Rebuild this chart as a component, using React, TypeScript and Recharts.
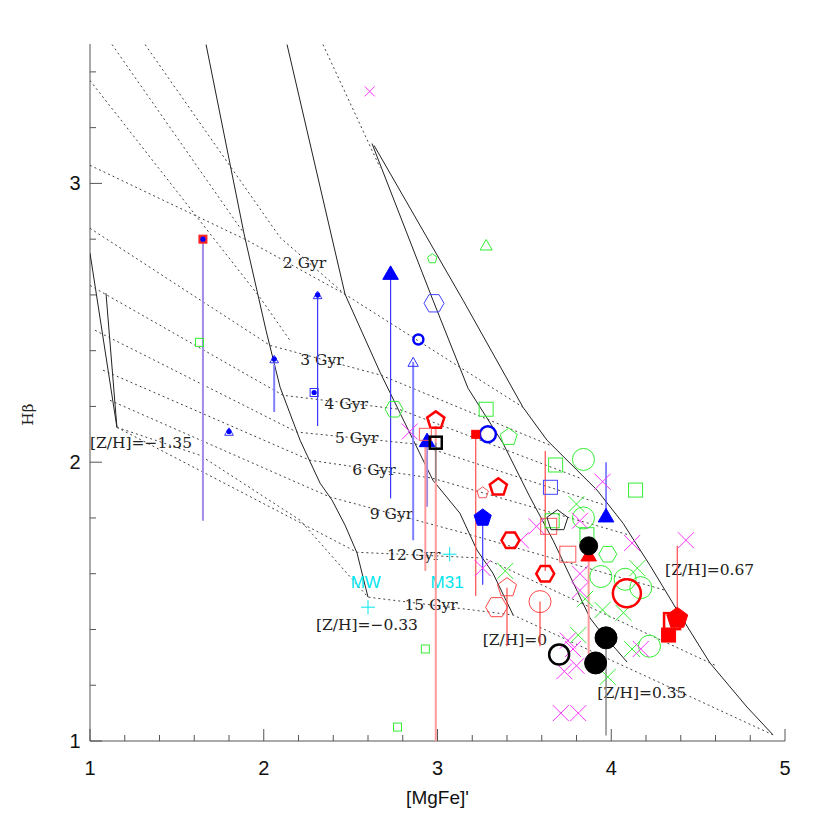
import React from "react";
import { ComposedChart, Scatter, XAxis, YAxis, Label } from "recharts";

type P = { x: number; y: number };
type T = { x: number; y: number; text: string };
type Bar = { x: number; hi: number; lo: number };

// ---- model grid: iso-metallicity (solid) ----
const zMinus135: P[] = [
  { x: 1.0, y: 2.75 }, { x: 1.155, y: 2.125 }, { x: 1.092, y: 2.606 },
];
const zMinus033: P[] = [
  { x: 1.668, y: 3.498 }, { x: 1.886, y: 2.821 }, { x: 2.013, y: 2.473 }, { x: 2.094, y: 2.269 },
  { x: 2.209, y: 2.079 }, { x: 2.324, y: 1.925 }, { x: 2.393, y: 1.864 }, { x: 2.468, y: 1.774 },
  { x: 2.537, y: 1.674 }, { x: 2.6, y: 1.516 },
];
const zSolar: P[] = [
  { x: 2.134, y: 3.498 }, { x: 2.468, y: 2.602 }, { x: 2.669, y: 2.323 }, { x: 2.974, y: 1.935 },
  { x: 3.129, y: 1.817 }, { x: 3.227, y: 1.685 }, { x: 3.319, y: 1.602 }, { x: 3.435, y: 1.452 },
];
const zPlus035: P[] = [
  { x: 2.623, y: 3.143 }, { x: 2.974, y: 2.581 }, { x: 3.176, y: 2.265 }, { x: 3.377, y: 2.068 },
  { x: 3.532, y: 1.875 }, { x: 3.665, y: 1.72 }, { x: 3.774, y: 1.577 }, { x: 3.878, y: 1.441 },
  { x: 3.953, y: 1.38 }, { x: 4.022, y: 1.333 }, { x: 4.091, y: 1.283 },
];
const zPlus067: P[] = [
  { x: 2.635, y: 3.136 }, { x: 3.147, y: 2.581 }, { x: 3.492, y: 2.197 }, { x: 3.63, y: 2.079 },
  { x: 3.918, y: 1.9 }, { x: 4.068, y: 1.781 }, { x: 4.223, y: 1.63 }, { x: 4.292, y: 1.559 },
  { x: 4.378, y: 1.47 }, { x: 4.568, y: 1.28 }, { x: 4.781, y: 1.122 }, { x: 4.931, y: 1.022 },
];

// ---- model grid: iso-age (dotted) ----
const age2: P[] = [{ x: 1.0, y: 3.065 }, { x: 1.904, y: 2.796 }, { x: 2.468, y: 2.602 }, { x: 3.492, y: 2.197 }];
const age3: P[] = [{ x: 1.0, y: 2.839 }, { x: 2.036, y: 2.419 }, { x: 2.675, y: 2.312 }, { x: 3.647, y: 2.061 }];
const age4: P[] = [{ x: 1.0, y: 2.634 }, { x: 2.111, y: 2.24 }, { x: 2.778, y: 2.19 }, { x: 3.82, y: 1.943 }];
const age5: P[] = [{ x: 1.029, y: 2.473 }, { x: 2.191, y: 2.108 }, { x: 2.876, y: 2.065 }, { x: 3.964, y: 1.846 }];
const age6: P[] = [{ x: 1.075, y: 2.33 }, { x: 2.266, y: 2.007 }, { x: 2.968, y: 1.943 }, { x: 4.108, y: 1.738 }];
const age9: P[] = [{ x: 1.115, y: 2.222 }, { x: 2.381, y: 1.875 }, { x: 3.176, y: 1.742 }, { x: 4.309, y: 1.541 }];
const age12: P[] = [{ x: 1.155, y: 2.125 }, { x: 2.537, y: 1.677 }, { x: 3.268, y: 1.656 }, { x: 4.597, y: 1.272 }];
const age15: P[] = [
  { x: 1.155, y: 2.125 }, { x: 1.633, y: 2.025 }, { x: 2.209, y: 1.792 }, { x: 2.6, y: 1.516 },
  { x: 3.435, y: 1.452 }, { x: 4.931, y: 1.022 },
];
const youngA: P[] = [{ x: 1.127, y: 3.498 }, { x: 1.886, y: 2.821 }];
const youngB: P[] = [{ x: 1.317, y: 3.498 }, { x: 2.094, y: 2.806 }, { x: 2.468, y: 2.602 }];
const youngC: P[] = [{ x: 1.0, y: 3.369 }, { x: 1.978, y: 2.591 }, { x: 2.151, y: 2.437 }];
const youngD: P[] = [{ x: 2.341, y: 3.498 }, { x: 2.669, y: 3.057 }];

// ---- labels ----
const ageLabels: T[] = [
  { x: 2.11, y: 2.713, text: "2 Gyr" }, { x: 2.21, y: 2.366, text: "3 Gyr" },
  { x: 2.35, y: 2.21, text: "4 Gyr" }, { x: 2.41, y: 2.086, text: "5 Gyr" },
  { x: 2.51, y: 1.971, text: "6 Gyr" }, { x: 2.61, y: 1.814, text: "9 Gyr" },
  { x: 2.71, y: 1.667, text: "12 Gyr" }, { x: 2.81, y: 1.487, text: "15 Gyr" },
];
const metalLabels: T[] = [
  { x: 1.0, y: 2.07, text: "[Z/H]=\u22121.35" }, { x: 2.3, y: 1.416, text: "[Z/H]=\u22120.33" },
  { x: 3.26, y: 1.362, text: "[Z/H]=0" }, { x: 3.92, y: 1.172, text: "[Z/H]=0.35" },
  { x: 4.31, y: 1.613, text: "[Z/H]=0.67" },
];
const galaxyLabels: T[] = [{ x: 2.5, y: 1.57, text: "MW" }, { x: 2.96, y: 1.57, text: "M31" }];

// ---- error bars ----
const purpleBars: Bar[] = [{ x: 1.65, hi: 2.8, lo: 1.79 }, { x: 2.94, hi: 2.08, lo: 1.84 }];
const lightBlueBars: Bar[] = [{ x: 2.06, hi: 2.35, lo: 2.18 }, { x: 2.86, hi: 2.36, lo: 1.72 }];
const blueBars: Bar[] = [
  { x: 2.31, hi: 2.6, lo: 2.13 }, { x: 2.73, hi: 2.68, lo: 1.87 },
  { x: 3.26, hi: 1.8, lo: 1.56 }, { x: 3.97, hi: 2.0, lo: 1.81 },
];
const pinkBars: Bar[] = [
  { x: 2.99, hi: 2.13, lo: 1.0 }, { x: 2.93, hi: 2.08, lo: 1.61 }, { x: 3.87, hi: 1.67, lo: 1.31 },
];
const redBars: Bar[] = [
  { x: 3.22, hi: 2.1, lo: 1.52 }, { x: 3.4, hi: 1.55, lo: 1.34 }, { x: 3.59, hi: 1.5, lo: 1.34 },
  { x: 3.62, hi: 2.04, lo: 1.61 }, { x: 4.38, hi: 1.7, lo: 1.44 },
];
const grayBars: Bar[] = [{ x: 2.99, hi: 2.07, lo: 1.93 }, { x: 3.97, hi: 1.37, lo: 1.02 }];

// ---- galaxies ----
const greenSquaresSmall: P[] = [{ x: 1.63, y: 2.43 }, { x: 2.77, y: 1.05 }, { x: 2.93, y: 1.33 }];
const greenSquares: P[] = [
  { x: 3.28, y: 2.19 }, { x: 3.68, y: 1.99 }, { x: 4.14, y: 1.9 }, { x: 3.66, y: 1.79 }, { x: 3.86, y: 1.74 },
];
const greenPentagons: P[] = [{ x: 3.41, y: 2.09 }];
const greenPentagonsSmall: P[] = [{ x: 2.97, y: 2.73 }];
const greenTriangles: P[] = [{ x: 3.28, y: 2.78 }];
const greenHexagons: P[] = [{ x: 2.75, y: 2.19 }, { x: 3.98, y: 1.67 }];
const greenCircles: P[] = [
  { x: 3.84, y: 2.01 }, { x: 3.84, y: 1.8 }, { x: 3.94, y: 1.59 }, { x: 4.08, y: 1.58 },
  { x: 4.17, y: 1.55 }, { x: 4.22, y: 1.34 },
];
const greenCrosses: P[] = [
  { x: 3.39, y: 1.61 }, { x: 3.8, y: 1.85 }, { x: 3.95, y: 1.47 }, { x: 4.07, y: 1.46 }, { x: 3.85, y: 1.51 },
  { x: 4.15, y: 1.62 }, { x: 4.12, y: 1.33 }, { x: 3.98, y: 1.23 }, { x: 3.81, y: 1.38 },
];
const magentaCrosses: P[] = [
  { x: 2.84, y: 2.11 }, { x: 3.95, y: 1.93 }, { x: 4.12, y: 1.71 }, { x: 4.43, y: 1.72 },
  { x: 3.57, y: 1.77 }, { x: 3.82, y: 1.79 }, { x: 3.48, y: 1.72 }, { x: 3.26, y: 1.62 }, { x: 3.82, y: 1.6 },
  { x: 3.82, y: 1.54 }, { x: 3.75, y: 1.36 }, { x: 3.78, y: 1.33 }, { x: 3.73, y: 1.25 }, { x: 3.8, y: 1.27 },
  { x: 3.71, y: 1.1 }, { x: 3.81, y: 1.1 }, { x: 4.17, y: 1.33 },
];
const magentaCrossSmall: P[] = [{ x: 2.61, y: 3.33 }];
const blueTriDot: P[] = [{ x: 2.06, y: 2.37 }, { x: 2.31, y: 2.6 }, { x: 1.8, y: 2.11 }];
const blueSqDot: P[] = [{ x: 2.29, y: 2.25 }];
const redSqBlueDot: P[] = [{ x: 1.65, y: 2.8 }];
const blueFilledTri: P[] = [{ x: 2.73, y: 2.68 }, { x: 2.94, y: 2.08 }, { x: 3.97, y: 1.81 }];
const blueCircleSmall: P[] = [{ x: 2.89, y: 2.44 }];
const blueCircle: P[] = [{ x: 3.29, y: 2.1 }];
const blueOpenTri: P[] = [{ x: 2.86, y: 2.36 }];
const blueHexagon: P[] = [{ x: 2.98, y: 2.57 }];
const blueFilledPent: P[] = [{ x: 3.26, y: 1.8 }];
const blueSquare: P[] = [{ x: 3.65, y: 1.91 }];
const redPentThick: P[] = [{ x: 2.99, y: 2.15 }, { x: 3.35, y: 1.91 }];
const redSquareLightSmall: P[] = [{ x: 2.93, y: 2.1 }];
const redPentLightSmall: P[] = [{ x: 3.26, y: 1.89 }];
const redHexThick: P[] = [{ x: 3.42, y: 1.72 }, { x: 3.62, y: 1.6 }];
const redPentThin: P[] = [{ x: 3.4, y: 1.55 }];
const redHexThin: P[] = [{ x: 3.34, y: 1.48 }];
const redCircleThin: P[] = [{ x: 3.59, y: 1.5 }];
const redSquareThin: P[] = [{ x: 3.64, y: 1.77 }, { x: 3.75, y: 1.67 }];
const redFilledSquareSmall: P[] = [{ x: 3.22, y: 2.1 }];
const redFilledTri: P[] = [{ x: 3.87, y: 1.67 }];
const redCircleThick: P[] = [{ x: 4.09, y: 1.53 }];
const redFilledPent: P[] = [{ x: 4.38, y: 1.44 }];
const redSquareThick: P[] = [{ x: 4.35, y: 1.43 }];
const redFilledSquare: P[] = [{ x: 4.33, y: 1.38 }];
const blackSquareThick: P[] = [{ x: 2.99, y: 2.07 }];
const blackDotSmall: P[] = [{ x: 3.87, y: 1.7 }];
const blackDots: P[] = [{ x: 3.97, y: 1.37 }, { x: 3.91, y: 1.28 }];
const blackCircleThick: P[] = [{ x: 3.7, y: 1.31 }];
const blackPentagon: P[] = [{ x: 3.69, y: 1.79 }];
const cyanPlus: P[] = [{ x: 2.6, y: 1.48 }, { x: 3.07, y: 1.67 }];

const xTicks = [1, 1.2, 1.4, 1.6, 1.8, 2, 2.2, 2.4, 2.6, 2.8, 3, 3.2, 3.4, 3.6, 3.8, 4, 4.2, 4.4, 4.6, 4.8, 5];
const yTicks = [1, 1.2, 1.4, 1.6, 1.8, 2, 2.2, 2.4, 2.6, 2.8, 3, 3.2, 3.4];

const AX = "#555";
const isMajor = (v: number) => Math.abs(v - Math.round(v)) < 1e-6;

const poly = (cx: number, cy: number, r: number, n: number, start: number) =>
  Array.from({ length: n }, (_, i) => {
    const a = start + (i * 2 * Math.PI) / n;
    return `${cx + r * Math.cos(a)},${cy + r * Math.sin(a)}`;
  }).join(" ");

type Style = { kind: string; r: number; color: string; fill?: boolean; sw?: number; dot?: string; edge?: string };

const marker = (st: Style) => (props: any) => {
  const { cx, cy } = props;
  if (cx == null || cy == null) return <g />;
  const { kind, r, color, fill, sw = 1 } = st;
  const f = fill ? color : "none";
  const s = st.edge ?? color;
  let el: React.ReactNode = null;
  if (kind === "circle") el = <circle cx={cx} cy={cy} r={r} fill={f} stroke={s} strokeWidth={sw} />;
  else if (kind === "square")
    el = <rect x={cx - r} y={cy - r} width={2 * r} height={2 * r} fill={f} stroke={s} strokeWidth={sw} />;
  else if (kind === "tri")
    el = <polygon points={poly(cx, cy + r * 0.25, r, 3, -Math.PI / 2)} fill={f} stroke={s} strokeWidth={sw} />;
  else if (kind === "pent")
    el = <polygon points={poly(cx, cy, r, 5, -Math.PI / 2)} fill={f} stroke={s} strokeWidth={sw} />;
  else if (kind === "hex") el = <polygon points={poly(cx, cy, r, 6, 0)} fill={f} stroke={s} strokeWidth={sw} />;
  else if (kind === "x")
    el = (
      <g stroke={color} strokeWidth={sw}>
        <line x1={cx - r} y1={cy - r} x2={cx + r} y2={cy + r} />
        <line x1={cx - r} y1={cy + r} x2={cx + r} y2={cy - r} />
      </g>
    );
  else if (kind === "plus")
    el = (
      <g stroke={color} strokeWidth={sw}>
        <line x1={cx - r} y1={cy} x2={cx + r} y2={cy} />
        <line x1={cx} y1={cy - r} x2={cx} y2={cy + r} />
      </g>
    );
  return (
    <g>
      {el}
      {st.dot && <circle cx={cx} cy={cy} r={2.6} fill={st.dot} />}
    </g>
  );
};

const none = () => <g />;

const textShape = (font: string, size: number, color: string) => (props: any) => {
  const { cx, cy, payload } = props;
  if (cx == null) return <g />;
  return (
    <text x={cx} y={cy} dominantBaseline="central" fontFamily={font} fontSize={size} fill={color}>
      {payload.text}
    </text>
  );
};

const curve = (key: string, data: P[], dotted: boolean) => (
  <Scatter
    key={key}
    data={data}
    line={{ stroke: dotted ? "#444" : "#222", strokeWidth: 1, strokeDasharray: dotted ? "2 3" : undefined }}
    lineType="joint"
    shape={none}
    isAnimationActive={false}
  />
);

const bars = (key: string, list: Bar[], color: string, w: number) =>
  list.map((b, i) => (
    <Scatter
      key={`${key}${i}`}
      data={[{ x: b.x, y: b.hi }, { x: b.x, y: b.lo }]}
      line={{ stroke: color, strokeWidth: w }}
      lineType="joint"
      shape={none}
      isAnimationActive={false}
    />
  ));

const pts = (key: string, data: P[], st: Style) => (
  <Scatter key={key} data={data} shape={marker(st)} isAnimationActive={false} />
);

const BottomTick = (p: any) => {
  const v = p.payload.value;
  const m = isMajor(v);
  return (
    <g>
      <line x1={p.x} x2={p.x} y1={p.y} y2={p.y - (m ? 12 : 6)} stroke={AX} />
      {m && (
        <text x={p.x} y={p.y + 34} textAnchor="middle" fontFamily="Liberation Sans" fontSize={20} fill="#111">
          {v}
        </text>
      )}
    </g>
  );
};
const TopTick = (p: any) => {
  const m = isMajor(p.payload.value);
  return <line x1={p.x} x2={p.x} y1={p.y} y2={p.y + (m ? 12 : 6)} stroke={AX} />;
};
const LeftTick = (p: any) => {
  const v = p.payload.value;
  const m = isMajor(v);
  return (
    <g>
      <line x1={p.x} x2={p.x + (m ? 12 : 6)} y1={p.y} y2={p.y} stroke={AX} />
      {m && (
        <text x={p.x - 15} y={p.y + 7} textAnchor="middle" fontFamily="Liberation Sans" fontSize={20} fill="#111">
          {v}
        </text>
      )}
    </g>
  );
};
const RightTick = (p: any) => {
  const m = isMajor(p.payload.value);
  return <line x1={p.x} x2={p.x - (m ? 12 : 6)} y1={p.y} y2={p.y} stroke={AX} />;
};

export default function App() {
  return (
    <div style={{ position: "absolute", left: 0, top: 0, width: 830, height: 830, background: "#fff" }}>
      <ComposedChart width={830} height={830} margin={{ top: 44, right: 45, bottom: 49, left: 50 }}>
        <XAxis
          dataKey="x"
          type="number"
          domain={[1, 5]}
          allowDataOverflow
          ticks={xTicks}
          interval={0}
          tickSize={0}
          tickMargin={0}
          tickLine={false}
          tick={BottomTick}
          height={40}
          axisLine={{ stroke: AX }}
        >
          <Label
            content={(p: any) => (
              <text
                x={p.viewBox.x + p.viewBox.width / 2}
                y={p.viewBox.y + 63}
                textAnchor="middle"
                fontFamily="Liberation Sans"
                fontSize={19}
                fill="#111"
              >
                [MgFe]'
              </text>
            )}
          />
        </XAxis>
        <XAxis
          xAxisId="top"
          orientation="top"
          dataKey="x"
          type="number"
          domain={[1, 5]}
          allowDataOverflow
          ticks={xTicks}
          interval={0}
          tickSize={0}
          tickMargin={0}
          tickLine={false}
          tick={TopTick}
          height={0}
          axisLine={{ stroke: AX }}
        />
        <YAxis
          dataKey="y"
          type="number"
          domain={[1, 3.5]}
          allowDataOverflow
          ticks={yTicks}
          interval={0}
          tickSize={0}
          tickMargin={0}
          tickLine={false}
          tick={LeftTick}
          width={40}
          axisLine={{ stroke: AX }}
        >
          <Label
            content={(p: any) => {
              const x = p.viewBox.x - 17;
              const y = p.viewBox.y + p.viewBox.height / 2 + 22;
              return (
                <text
                  x={x}
                  y={y}
                  transform={`rotate(-90 ${x} ${y})`}
                  textAnchor="middle"
                  fontFamily="DejaVu Serif"
                  fontSize={15}
                  fill="#222"
                >
                  H{"\u03b2"}
                </text>
              );
            }}
          />
        </YAxis>
        <YAxis
          yAxisId="right"
          orientation="right"
          dataKey="y"
          type="number"
          domain={[1, 3.5]}
          allowDataOverflow
          ticks={yTicks}
          interval={0}
          tickSize={0}
          tickMargin={0}
          tickLine={false}
          tick={RightTick}
          width={0}
          axisLine={{ stroke: AX }}
        />

        {curve("zm135", zMinus135, false)}
        {curve("zm033", zMinus033, false)}
        {curve("z0", zSolar, false)}
        {curve("z035", zPlus035, false)}
        {curve("z067", zPlus067, false)}
        {curve("a2", age2, true)}
        {curve("a3", age3, true)}
        {curve("a4", age4, true)}
        {curve("a5", age5, true)}
        {curve("a6", age6, true)}
        {curve("a9", age9, true)}
        {curve("a12", age12, true)}
        {curve("a15", age15, true)}
        {curve("ya", youngA, true)}
        {curve("yb", youngB, true)}
        {curve("yc", youngC, true)}
        {curve("yd", youngD, true)}

        <Scatter data={ageLabels} shape={textShape("DejaVu Serif", 15.5, "#222")} isAnimationActive={false} />
        <Scatter data={metalLabels} shape={textShape("DejaVu Serif", 15.5, "#222")} isAnimationActive={false} />
        <Scatter data={galaxyLabels} shape={textShape("Liberation Sans", 17, "#00e5ee")} isAnimationActive={false} />

        {bars("pu", purpleBars, "#a58be8", 2)}
        {bars("lb", lightBlueBars, "#7f7fff", 2)}
        {bars("bl", blueBars, "#3a3aff", 1.2)}
        {bars("pk", pinkBars, "#ff9a9a", 2)}
        {bars("rd", redBars, "#ff4a4a", 1.2)}
        {bars("gr", grayBars, "#8a8a8a", 1.5)}

        {pts("gss", greenSquaresSmall, { kind: "square", r: 4, color: "#33ee33" })}
        {pts("gs", greenSquares, { kind: "square", r: 7, color: "#33ee33" })}
        {pts("gp", greenPentagons, { kind: "pent", r: 9, color: "#33ee33" })}
        {pts("gps", greenPentagonsSmall, { kind: "pent", r: 5, color: "#33ee33" })}
        {pts("gt", greenTriangles, { kind: "tri", r: 7, color: "#33ee33" })}
        {pts("gh", greenHexagons, { kind: "hex", r: 9, color: "#33ee33" })}
        {pts("gc", greenCircles, { kind: "circle", r: 11, color: "#33ee33" })}
        {pts("gx", greenCrosses, { kind: "x", r: 8, color: "#33ee33" })}
        {pts("mx", magentaCrosses, { kind: "x", r: 8, color: "#ff33ff" })}
        {pts("mxs", magentaCrossSmall, { kind: "x", r: 5, color: "#ff33ff" })}
        {pts("cp", cyanPlus, { kind: "plus", r: 7, color: "#00e5ee" })}

        {pts("btd", blueTriDot, { kind: "tri", r: 5, color: "#3333ff", dot: "#0000ff" })}
        {pts("bsd", blueSqDot, { kind: "square", r: 4, color: "#3333ff", dot: "#0000ff" })}
        {pts("rsb", redSqBlueDot, { kind: "square", r: 4, color: "#ff2222", fill: true, dot: "#0000ff" })}
        {pts("bft", blueFilledTri, { kind: "tri", r: 9, color: "#0000ff", fill: true })}
        {pts("bcs", blueCircleSmall, { kind: "circle", r: 5, color: "#0000ff", sw: 2.5 })}
        {pts("bc", blueCircle, { kind: "circle", r: 8, color: "#0000ff", sw: 2.5 })}
        {pts("bot", blueOpenTri, { kind: "tri", r: 6, color: "#3333ff" })}
        {pts("bh", blueHexagon, { kind: "hex", r: 10, color: "#4444ff" })}
        {pts("bfp", blueFilledPent, { kind: "pent", r: 9, color: "#0000ff", fill: true })}
        {pts("bs", blueSquare, { kind: "square", r: 7, color: "#4444ff" })}

        {pts("rpt", redPentThick, { kind: "pent", r: 9, color: "#ff0000", sw: 2.5 })}
        {pts("rsl", redSquareLightSmall, { kind: "square", r: 6, color: "#ff5555" })}
        {pts("rpl", redPentLightSmall, { kind: "pent", r: 6, color: "#ff5555" })}
        {pts("rht", redHexThick, { kind: "hex", r: 9, color: "#ff0000", sw: 2.5 })}
        {pts("rpn", redPentThin, { kind: "pent", r: 10, color: "#ff4444" })}
        {pts("rhn", redHexThin, { kind: "hex", r: 11, color: "#ff4444" })}
        {pts("rcn", redCircleThin, { kind: "circle", r: 11, color: "#ff4444" })}
        {pts("rsn", redSquareThin, { kind: "square", r: 8, color: "#ff5555" })}
        {pts("rfs", redFilledSquareSmall, { kind: "square", r: 4, color: "#ff0000", fill: true })}
        {pts("rft", redFilledTri, { kind: "tri", r: 9, color: "#ff0000", fill: true })}
        {pts("rct", redCircleThick, { kind: "circle", r: 14, color: "#ff0000", sw: 2.5 })}
        {pts("rst", redSquareThick, { kind: "square", r: 8, color: "#ff0000", sw: 2.5 })}
        {pts("rfp", redFilledPent, { kind: "pent", r: 11, color: "#ff0000", fill: true })}
        {pts("rfq", redFilledSquare, { kind: "square", r: 7, color: "#ff0000", fill: true })}

        {pts("kst", blackSquareThick, { kind: "square", r: 6, color: "#000", sw: 2.5 })}
        {pts("kds", blackDotSmall, { kind: "circle", r: 9, color: "#000", fill: true })}
        {pts("kd", blackDots, { kind: "circle", r: 11, color: "#000", fill: true })}
        {pts("kct", blackCircleThick, { kind: "circle", r: 10, color: "#000", sw: 2.5 })}
        {pts("kp", blackPentagon, { kind: "pent", r: 11, color: "#222" })}
      </ComposedChart>
    </div>
  );
}
